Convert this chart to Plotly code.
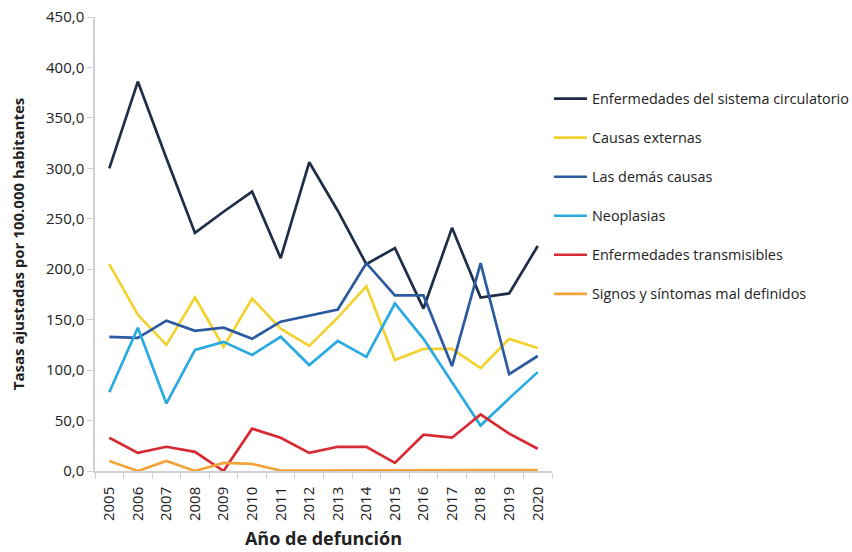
import plotly.graph_objects as go

years = [str(y) for y in range(2005, 2021)]

circulatorio = [300, 386, 310, 236, 257, 277, 211, 306, 258, 205, 221, 161, 241, 172, 176, 223]
externas = [205, 155, 125, 172, 123, 171, 141, 124, 152, 183, 110, 121, 121, 102, 131, 122]
demas = [133, 132, 149, 139, 142, 131, 148, 154, 160, 206, 174, 174, 104, 206, 96, 114]
neoplasias = [78, 142, 67, 120, 128, 115, 133, 105, 129, 113, 166, 131, 88, 45, 72, 98]
transmisibles = [33, 18, 24, 19, 0, 42, 33, 18, 24, 24, 8, 36, 33, 56, 37, 22]
signos = [10, 0, 10, 0, 8, 7, 0.5, 0.5, 0.5, 0.8, 0.8, 0.8, 0.8, 1, 1, 1]

series = [
    ("Enfermedades del sistema circulatorio", circulatorio, "#1e2d48"),
    ("Causas externas", externas, "#f3d230"),
    ("Las demás causas", demas, "#2b5a9e"),
    ("Neoplasias", neoplasias, "#2aaae0"),
    ("Enfermedades transmisibles", transmisibles, "#d82a32"),
    ("Signos y síntomas mal definidos", signos, "#f2a33a"),
]

font_family = "Open Sans, Lato, sans-serif"

fig = go.Figure()
for i, (name, vals, color) in enumerate(series):
    fig.add_trace(go.Scatter(
        x=years, y=vals, name=name, mode="lines",
        line=dict(color=color, width=2.7),
        legendgroup=f"g{i}",
    ))

fig.update_layout(
    width=852, height=552,
    margin=dict(l=95, r=300, t=17, b=81, autoexpand=False),
    paper_bgcolor="white", plot_bgcolor="white",
    separators=",.",
    font=dict(family=font_family, color="#222222", size=14),
    showlegend=True,
    legend=dict(
        x=0.9934, y=0.855, xanchor="left", yanchor="top",
        font=dict(size=14.4, color="#222222"),
        tracegroupgap=17.3,
        itemwidth=33,
        bgcolor="rgba(0,0,0,0)",
    ),
)

fig.update_xaxes(
    type="category", range=[-0.5, 15.5],
    tickangle=-90, tickson="boundaries",
    ticks="outside", ticklen=6, tickcolor="#cfcfd6",
    ticklabelstandoff=8,
    showline=True, linecolor="#cfcfd6", linewidth=1.5,
    showgrid=False, automargin=False,
    tickfont=dict(size=15, color="#222222"),
    title=dict(text="<b>Año de defunción</b>", font=dict(size=18, color="#222222"), standoff=12),
)

fig.update_yaxes(
    range=[0, 450], dtick=50, tickformat=".1f",
    ticks="outside", ticklen=6, tickcolor="#cfcfd6",
    ticklabeloverflow="allow",
    showline=True, linecolor="#cfcfd6", linewidth=1.5,
    showgrid=False, zeroline=False, automargin=False,
    tickfont=dict(size=15, color="#222222"),
    title=dict(text="<b>Tasas ajustadas por 100.000 habitantes</b>", font=dict(size=15, color="#222222"), standoff=18),
)

fig.write_html("out.html", config={"displayModeBar": False},
               post_script="document.body.style.margin='0';")
